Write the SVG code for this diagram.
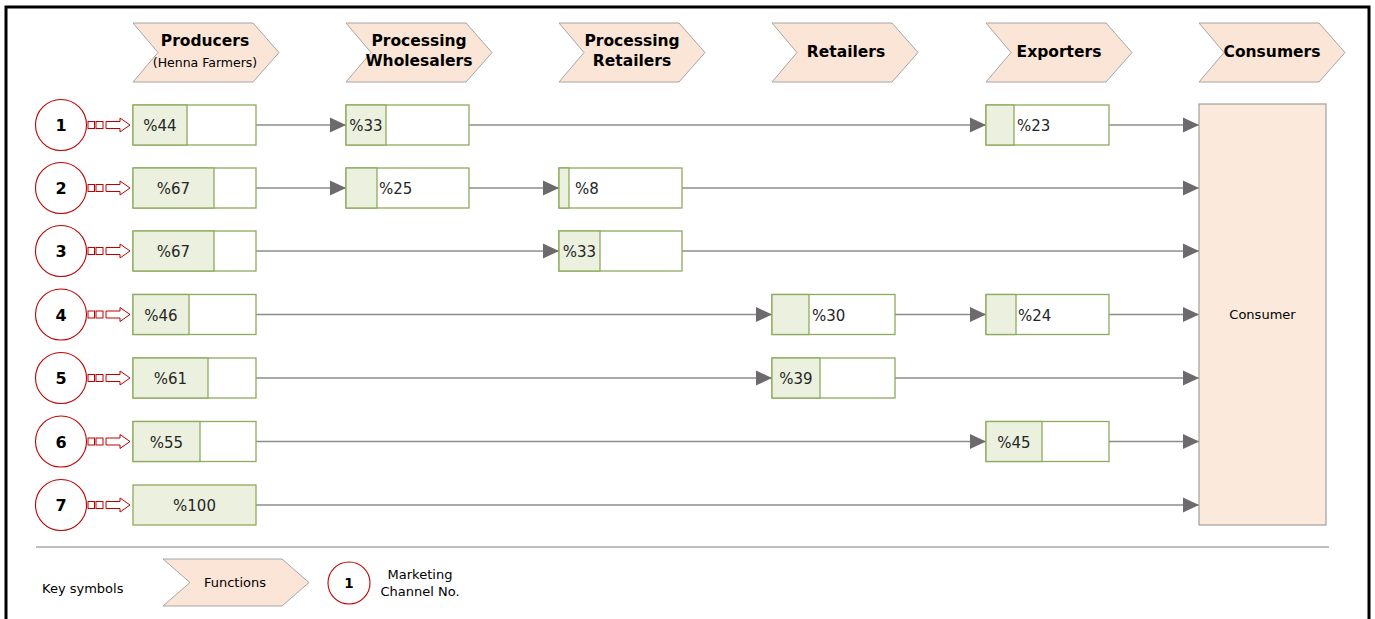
<svg xmlns="http://www.w3.org/2000/svg" width="1375" height="619" viewBox="0 0 1375 619">
<style>
.chev{fill:#FBE5D6;stroke:#A6A6A6;stroke-width:1}
.hd{font-family:"DejaVu Sans",sans-serif;font-weight:bold;font-size:15.5px;fill:#000;text-anchor:middle}
.sub{font-family:"DejaVu Sans",sans-serif;font-size:12.5px;fill:#000;text-anchor:middle}
.box{fill:#FFFFFF;stroke:#8EAA5C;stroke-width:1.3}
.gr{fill:#EBF1DE;stroke:#8EAA5C;stroke-width:1.3}
.pc{font-family:"DejaVu Sans",sans-serif;font-size:15px;fill:#262626}
.pcm{font-family:"DejaVu Sans",sans-serif;font-size:15px;fill:#262626;text-anchor:middle}
.circ{fill:#FFFFFF;stroke:#C00000;stroke-width:1.1}
.num{font-family:"DejaVu Sans",sans-serif;font-weight:bold;font-size:16px;fill:#000;text-anchor:middle}
.ra{fill:#FFFFFF;stroke:#C00000;stroke-width:1}
.ln{fill:none;stroke:#8C8C8C;stroke-width:1.5;marker-end:url(#ah)}
.sm{font-family:"DejaVu Sans",sans-serif;font-size:13px;fill:#000}
</style>
<defs>
<marker id="ah" markerUnits="userSpaceOnUse" markerWidth="16" markerHeight="16" refX="16" refY="8" orient="auto" viewBox="0 0 16 16">
<path d="M0,0.5 L16,8 L0,15.5 Z" fill="#6D6A6E"/>
</marker>
</defs>
<rect width="1375" height="619" fill="#FFFFFF"/>
<path d="M6,640 V7 H1369 V640" fill="none" stroke="#000" stroke-width="3"/>

<g id="headers">
<g id="h-producers"><path class="chev" d="M133,23 H253 L279,52.5 L253,82 H133 L158,52.5 Z"/><text class="hd" x="205" y="46">Producers</text><text class="sub" x="205" y="67">(Henna Farmers)</text></g>
<g id="h-procwhole"><path class="chev" d="M346,23 H466 L492,52.5 L466,82 H346 L371,52.5 Z"/><text class="hd" x="419" y="46">Processing</text><text class="hd" x="419" y="66">Wholesalers</text></g>
<g id="h-procretail"><path class="chev" d="M559,23 H679 L705,52.5 L679,82 H559 L584,52.5 Z"/><text class="hd" x="632" y="46">Processing</text><text class="hd" x="632" y="66">Retailers</text></g>
<g id="h-retailers"><path class="chev" d="M772,23 H892 L918,52.5 L892,82 H772 L797,52.5 Z"/><text class="hd" x="846" y="57">Retailers</text></g>
<g id="h-exporters"><path class="chev" d="M986,23 H1106 L1132,52.5 L1106,82 H986 L1011,52.5 Z"/><text class="hd" x="1059" y="57">Exporters</text></g>
<g id="h-consumers"><path class="chev" d="M1199,23 H1319 L1345,52.5 L1319,82 H1199 L1224,52.5 Z"/><text class="hd" x="1272" y="57">Consumers</text></g>
</g>

<g id="connectors">
<path class="ln" d="M256,125 H346"/><path class="ln" d="M469,125 H986"/><path class="ln" d="M1109,125 H1199"/>
<path class="ln" d="M256,188 H346"/><path class="ln" d="M469,188 H559"/><path class="ln" d="M682,188 H1199"/>
<path class="ln" d="M256,251 H559"/><path class="ln" d="M682,251 H1199"/>
<path class="ln" d="M256,314.5 H772"/><path class="ln" d="M895,314.5 H986"/><path class="ln" d="M1109,314.5 H1199"/>
<path class="ln" d="M256,378 H772"/><path class="ln" d="M895,378 H1199"/>
<path class="ln" d="M256,441.5 H986"/><path class="ln" d="M1109,441.5 H1199"/>
<path class="ln" d="M256,505 H1199"/>
</g>

<g id="channel-markers">
<g id="ch1"><circle class="circ" cx="61" cy="125" r="25.5"/><text class="num" x="61" y="131">1</text><rect class="ra" x="88" y="121.5" width="6.5" height="7"/><rect class="ra" x="96" y="121.5" width="7" height="7"/><path class="ra" d="M106,121.5 H120 V118 L130,125 L120,132 V128.5 H106 Z"/></g>
<g id="ch2"><circle class="circ" cx="61" cy="188" r="25.5"/><text class="num" x="61" y="194">2</text><rect class="ra" x="88" y="184.5" width="6.5" height="7"/><rect class="ra" x="96" y="184.5" width="7" height="7"/><path class="ra" d="M106,184.5 H120 V181 L130,188 L120,195 V191.5 H106 Z"/></g>
<g id="ch3"><circle class="circ" cx="61" cy="251" r="25.5"/><text class="num" x="61" y="257">3</text><rect class="ra" x="88" y="247.5" width="6.5" height="7"/><rect class="ra" x="96" y="247.5" width="7" height="7"/><path class="ra" d="M106,247.5 H120 V244 L130,251 L120,258 V254.5 H106 Z"/></g>
<g id="ch4"><circle class="circ" cx="61" cy="314.5" r="25.5"/><text class="num" x="61" y="320.5">4</text><rect class="ra" x="88" y="311" width="6.5" height="7"/><rect class="ra" x="96" y="311" width="7" height="7"/><path class="ra" d="M106,311 H120 V307.5 L130,314.5 L120,321.5 V318 H106 Z"/></g>
<g id="ch5"><circle class="circ" cx="61" cy="378" r="25.5"/><text class="num" x="61" y="384">5</text><rect class="ra" x="88" y="374.5" width="6.5" height="7"/><rect class="ra" x="96" y="374.5" width="7" height="7"/><path class="ra" d="M106,374.5 H120 V371 L130,378 L120,385 V381.5 H106 Z"/></g>
<g id="ch6"><circle class="circ" cx="61" cy="441.5" r="25.5"/><text class="num" x="61" y="447.5">6</text><rect class="ra" x="88" y="438" width="6.5" height="7"/><rect class="ra" x="96" y="438" width="7" height="7"/><path class="ra" d="M106,438 H120 V434.5 L130,441.5 L120,448.5 V445 H106 Z"/></g>
<g id="ch7"><circle class="circ" cx="61" cy="505" r="25.5"/><text class="num" x="61" y="511">7</text><rect class="ra" x="88" y="501.5" width="6.5" height="7"/><rect class="ra" x="96" y="501.5" width="7" height="7"/><path class="ra" d="M106,501.5 H120 V498 L130,505 L120,512 V508.5 H106 Z"/></g>
</g>

<g id="row1">
<g id="r1-prod"><rect class="box" x="133" y="105" width="123" height="40"/><rect class="gr" x="133" y="105" width="54" height="40"/><text class="pcm" x="160" y="131">%44</text></g>
<g id="r1-pw"><rect class="box" x="346" y="105" width="123" height="40"/><rect class="gr" x="346" y="105" width="40" height="40"/><text class="pcm" x="366" y="131">%33</text></g>
<g id="r1-exp"><rect class="box" x="986" y="105" width="123" height="40"/><rect class="gr" x="986" y="105" width="28" height="40"/><text class="pc" x="1017" y="131">%23</text></g>
</g>
<g id="row2">
<g id="r2-prod"><rect class="box" x="133" y="168" width="123" height="40"/><rect class="gr" x="133" y="168" width="81" height="40"/><text class="pcm" x="173.5" y="194">%67</text></g>
<g id="r2-pw"><rect class="box" x="346" y="168" width="123" height="40"/><rect class="gr" x="346" y="168" width="31" height="40"/><text class="pc" x="379" y="194">%25</text></g>
<g id="r2-pr"><rect class="box" x="559" y="168" width="123" height="40"/><rect class="gr" x="559" y="168" width="10" height="40"/><text class="pc" x="575" y="194">%8</text></g>
</g>
<g id="row3">
<g id="r3-prod"><rect class="box" x="133" y="231" width="123" height="40"/><rect class="gr" x="133" y="231" width="81" height="40"/><text class="pcm" x="173.5" y="257">%67</text></g>
<g id="r3-pr"><rect class="box" x="559" y="231" width="123" height="40"/><rect class="gr" x="559" y="231" width="41" height="40"/><text class="pcm" x="579.5" y="257">%33</text></g>
</g>
<g id="row4">
<g id="r4-prod"><rect class="box" x="133" y="294.5" width="123" height="40"/><rect class="gr" x="133" y="294.5" width="56" height="40"/><text class="pcm" x="161" y="320.5">%46</text></g>
<g id="r4-ret"><rect class="box" x="772" y="294.5" width="123" height="40"/><rect class="gr" x="772" y="294.5" width="37" height="40"/><text class="pc" x="812" y="320.5">%30</text></g>
<g id="r4-exp"><rect class="box" x="986" y="294.5" width="123" height="40"/><rect class="gr" x="986" y="294.5" width="30" height="40"/><text class="pc" x="1018" y="320.5">%24</text></g>
</g>
<g id="row5">
<g id="r5-prod"><rect class="box" x="133" y="358" width="123" height="40"/><rect class="gr" x="133" y="358" width="75" height="40"/><text class="pcm" x="170.5" y="384">%61</text></g>
<g id="r5-ret"><rect class="box" x="772" y="358" width="123" height="40"/><rect class="gr" x="772" y="358" width="48" height="40"/><text class="pcm" x="796" y="384">%39</text></g>
</g>
<g id="row6">
<g id="r6-prod"><rect class="box" x="133" y="421.5" width="123" height="40"/><rect class="gr" x="133" y="421.5" width="67" height="40"/><text class="pcm" x="166.5" y="447.5">%55</text></g>
<g id="r6-exp"><rect class="box" x="986" y="421.5" width="123" height="40"/><rect class="gr" x="986" y="421.5" width="56" height="40"/><text class="pcm" x="1014" y="447.5">%45</text></g>
</g>
<g id="row7">
<g id="r7-prod"><rect class="gr" x="133" y="485" width="123" height="40"/><text class="pcm" x="194.5" y="511">%100</text></g>
</g>

<g id="consumer"><rect x="1199" y="104" width="127" height="421" fill="#FBE9DB" stroke="#A6A6A6" stroke-width="1.3"/><text class="sm" x="1262.5" y="319" text-anchor="middle">Consumer</text></g>

<line x1="36" y1="547" x2="1329" y2="547" stroke="#7F7F7F" stroke-width="1.2"/>

<g id="legend">
<text class="sm" x="42" y="593">Key symbols</text>
<g id="legend-function"><path class="chev" d="M163,559 H282 L309,582.5 L282,606 H163 L190,582.5 Z"/><text class="sm" x="235" y="587" text-anchor="middle">Functions</text></g>
<g id="legend-channel"><circle class="circ" cx="349" cy="583" r="21"/><text class="num" x="349" y="588" style="font-size:13.5px">1</text><text class="sm" x="420" y="579" text-anchor="middle">Marketing</text><text class="sm" x="420" y="596" text-anchor="middle">Channel No.</text></g>
</g>
</svg>
